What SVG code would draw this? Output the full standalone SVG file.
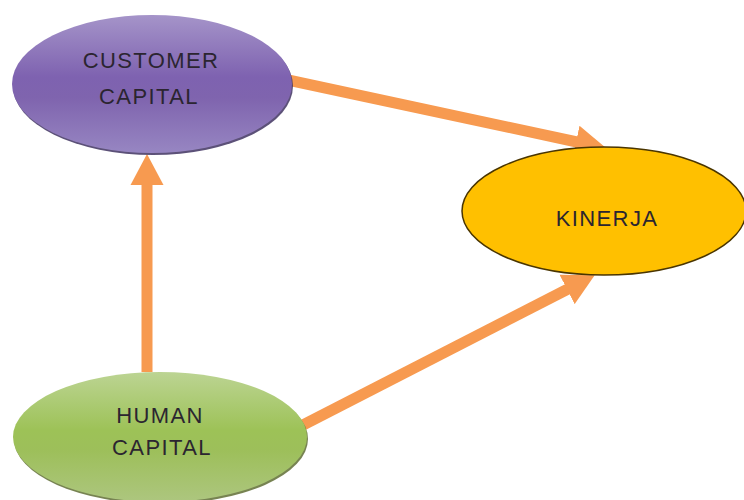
<svg xmlns="http://www.w3.org/2000/svg" width="744" height="500" viewBox="0 0 744 500">
  <style>
    .label { font-family: "Liberation Sans", Arial, sans-serif; font-size: 22px; fill: #2b2530; letter-spacing: 1.4px; text-anchor: middle; }
    .shaft { stroke: #f79a50; stroke-width: 11; fill: none; marker-end: url(#head); }
    .rim { opacity: 0.85; }
  </style>
  <defs>
    <linearGradient id="purpleFill" x1="0" y1="0" x2="0" y2="1">
      <stop offset="0" stop-color="#a594c9"/>
      <stop offset="0.45" stop-color="#7e62b0"/>
      <stop offset="0.6" stop-color="#7f64ae"/>
      <stop offset="1" stop-color="#9786c2"/>
    </linearGradient>
    <linearGradient id="greenFill" x1="0" y1="0" x2="0" y2="1">
      <stop offset="0" stop-color="#bcd493"/>
      <stop offset="0.45" stop-color="#9dc257"/>
      <stop offset="0.6" stop-color="#9dbf5a"/>
      <stop offset="1" stop-color="#adc67f"/>
    </linearGradient>
    <marker id="head" viewBox="0 -17 31 34" markerUnits="userSpaceOnUse" markerWidth="31" markerHeight="34" refX="1" refY="0" orient="auto">
      <path d="M0,-16.5 L31,0 L0,16.5 Z" fill="#f79a50"/>
    </marker>
  </defs>

  <rect width="744" height="500" fill="#ffffff"/>

  <!-- connectors -->
  <g id="connectors">
    <line class="shaft" x1="147" y1="372" x2="147" y2="184"/>
    <line class="shaft" x1="288" y1="80" x2="577" y2="142"/>
    <line class="shaft" x1="303" y1="425" x2="568" y2="289"/>
  </g>

  <!-- nodes -->
  <g id="customer-capital">
    <ellipse class="rim" cx="153" cy="86" rx="140" ry="69" fill="#3f3260"/>
    <ellipse cx="152" cy="84" rx="140" ry="69" fill="url(#purpleFill)"/>
    <text class="label" x="151" y="68">CUSTOMER</text>
    <text class="label" x="149" y="104">CAPITAL</text>
  </g>

  <g id="kinerja">
    <ellipse cx="604" cy="211" rx="142" ry="64" fill="#ffc000" stroke="#4a3500" stroke-width="1.5"/>
    <text class="label" x="607" y="226">KINERJA</text>
  </g>

  <g id="human-capital">
    <ellipse class="rim" cx="161" cy="439" rx="147" ry="65" fill="#5f6d34"/>
    <ellipse cx="160" cy="437" rx="147" ry="65" fill="url(#greenFill)"/>
    <text class="label" x="160" y="423">HUMAN</text>
    <text class="label" x="162" y="455">CAPITAL</text>
  </g>
</svg>
